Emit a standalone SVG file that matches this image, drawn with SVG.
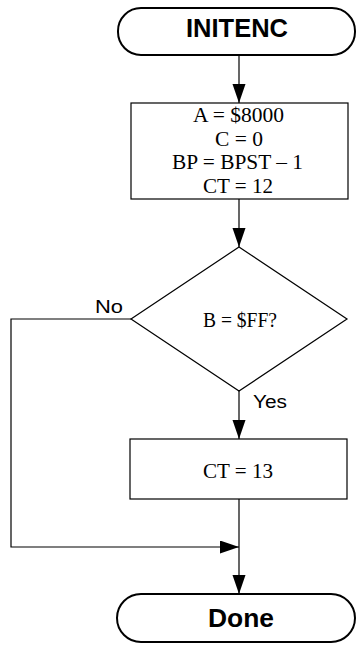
<svg xmlns="http://www.w3.org/2000/svg" width="357" height="647" viewBox="0 0 357 647">
<style>
.term{fill:#fff;stroke:#000;stroke-width:2}
.box{fill:#fff;stroke:#000;stroke-width:1.2}
.ln{fill:none;stroke:#000;stroke-width:1.2}
.tt{font-family:"Liberation Sans",Arial,sans-serif;font-weight:bold;font-size:25px}
.st{font-family:"Liberation Serif","Times New Roman",serif;font-size:20px}
.lb{font-family:"Liberation Sans",Arial,sans-serif;font-size:18px}
</style>
<defs>
<marker id="ah" markerUnits="userSpaceOnUse" markerWidth="20" markerHeight="14" refX="19" refY="6.5" orient="auto">
<polygon points="0,0 19,6.5 0,13" fill="#000"/>
</marker>
</defs>
<g id="connectors">
<line class="ln" x1="239" y1="56" x2="239" y2="103" marker-end="url(#ah)"/>
<line class="ln" x1="239" y1="199" x2="239" y2="247" marker-end="url(#ah)"/>
<line class="ln" x1="239" y1="391" x2="239" y2="439" marker-end="url(#ah)"/>
<line class="ln" x1="239" y1="499" x2="239" y2="594" marker-end="url(#ah)"/>
<polyline class="ln" points="131,319 11,319 11,547 239,547" marker-end="url(#ah)"/>
</g>
<g id="initenc">
<rect class="term" x="118" y="8" width="237" height="47" rx="23" ry="23"/>
<text class="tt" x="186" y="37" textLength="102" lengthAdjust="spacingAndGlyphs">INITENC</text>
</g>
<g id="init-box">
<rect class="box" x="131" y="103" width="217" height="96"/>
<text class="st" x="193" y="122" textLength="91" lengthAdjust="spacingAndGlyphs">A = $8000</text>
<text class="st" x="215" y="146" textLength="48" lengthAdjust="spacingAndGlyphs">C = 0</text>
<text class="st" x="172" y="169" textLength="131" lengthAdjust="spacingAndGlyphs">BP = BPST – 1</text>
<text class="st" x="203" y="193" textLength="70" lengthAdjust="spacingAndGlyphs">CT = 12</text>
</g>
<g id="decision">
<polygon class="box" points="239,247 347,319 239,391 131,319"/>
<text class="st" x="203" y="327" textLength="74" lengthAdjust="spacingAndGlyphs">B = $FF?</text>
<text class="lb" x="95" y="313" textLength="28" lengthAdjust="spacingAndGlyphs">No</text>
<text class="lb" x="253" y="408" textLength="34" lengthAdjust="spacingAndGlyphs">Yes</text>
</g>
<g id="ct13">
<rect class="box" x="130" y="439" width="217" height="60"/>
<text class="st" x="203" y="478" textLength="70" lengthAdjust="spacingAndGlyphs">CT = 13</text>
</g>
<g id="done">
<rect class="term" x="117" y="594" width="238" height="48" rx="24" ry="24"/>
<text class="tt" x="208" y="627" textLength="66" lengthAdjust="spacingAndGlyphs">Done</text>
</g>
</svg>
